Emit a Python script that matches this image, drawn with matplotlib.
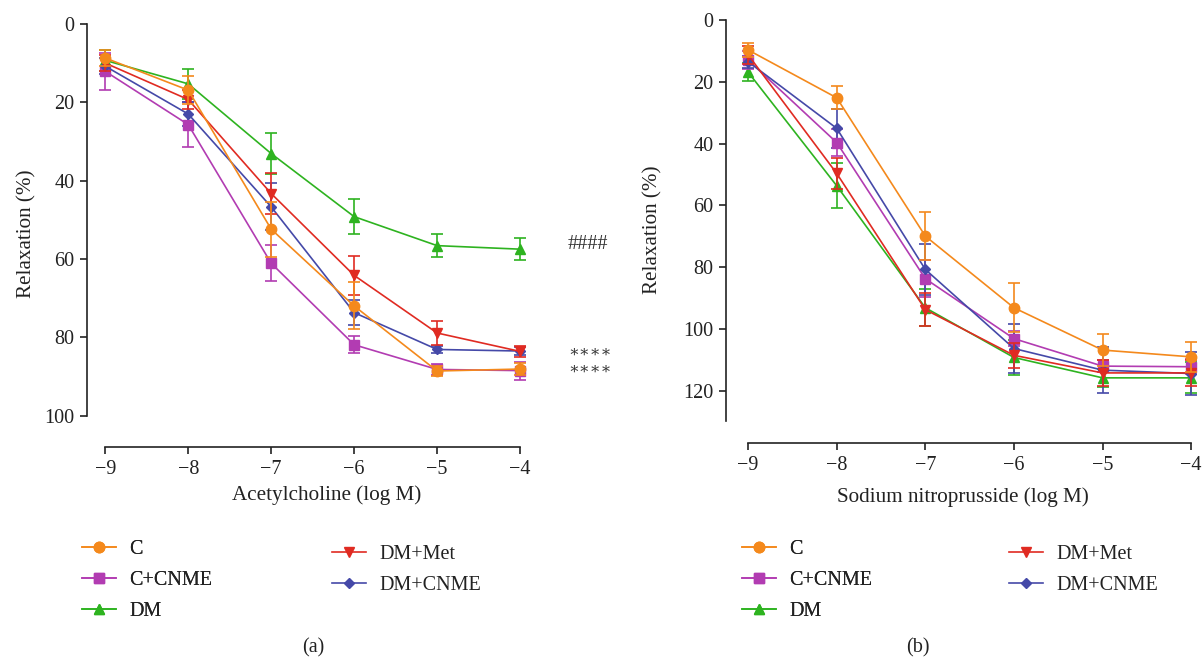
"""
Vascular relaxation curves: acetylcholine (a) and sodium nitroprusside (b).
"""

import numpy as np
import matplotlib.pyplot as plt
from matplotlib.lines import Line2D

plt.rcParams["font.family"] = ["Liberation Serif", "DejaVu Serif"]

# ── Data ─────────────────────────────────────────────────────────────────
log_conc = [-9, -8, -7, -6, -5, -4]
groups = ["C", "C+CNME", "DM", "DM+Met", "DM+CNME"]

# (a) acetylcholine: mean and error
ach_c = [8.7, 16.9, 52.4, 72.0, 88.6, 88.1]
ach_c_err = [2.0, 3.6, 7.0, 6.0, 1.2, 1.5]
ach_ccnme = [12.1, 25.7, 61.1, 81.9, 88.2, 88.5]
ach_ccnme_err = [4.7, 5.7, 4.6, 2.2, 1.5, 2.3]
ach_dm = [9.3, 15.3, 33.1, 49.2, 56.6, 57.5]
ach_dm_err = [2.7, 3.9, 5.2, 4.5, 3.0, 2.8]
ach_dmmet = [10.0, 19.3, 43.3, 64.2, 78.9, 83.6]
ach_dmmet_err = [2.0, 2.5, 5.2, 5.0, 3.1, 1.5]
ach_dmcnme = [10.8, 23.0, 46.7, 73.7, 83.1, 83.5]
ach_dmcnme_err = [2.0, 3.0, 6.0, 3.2, 1.0, 1.0]

# (b) sodium nitroprusside: mean and error
snp_c = [9.7, 25.2, 70.0, 93.2, 106.9, 109.1]
snp_c_err = [2.4, 3.7, 7.7, 7.9, 5.2, 4.9]
snp_ccnme = [13.0, 39.7, 83.8, 103.2, 112.1, 112.3]
snp_ccnme_err = [3.0, 4.5, 6.0, 2.5, 2.0, 2.5]
snp_dm = [16.9, 53.7, 93.2, 109.3, 115.9, 115.9]
snp_dm_err = [2.9, 7.3, 6.0, 5.7, 3.0, 5.0]
snp_dmmet = [11.3, 49.7, 93.8, 108.6, 114.3, 114.3]
snp_dmmet_err = [3.0, 5.0, 5.3, 4.0, 4.3, 4.3]
snp_dmcnme = [13.5, 35.1, 80.8, 106.4, 113.4, 114.5]
snp_dmcnme_err = [2.0, 6.4, 8.4, 8.0, 7.5, 7.0]

ach_means = [ach_c, ach_ccnme, ach_dm, ach_dmmet, ach_dmcnme]
ach_errs = [ach_c_err, ach_ccnme_err, ach_dm_err, ach_dmmet_err, ach_dmcnme_err]
snp_means = [snp_c, snp_ccnme, snp_dm, snp_dmmet, snp_dmcnme]
snp_errs = [snp_c_err, snp_ccnme_err, snp_dm_err, snp_dmmet_err, snp_dmcnme_err]

# ── Styles ───────────────────────────────────────────────────────────────
colors = ["#F4891C", "#B23CB2", "#2EB320", "#E02B22", "#4549A8"]
markers = ["o", "s", "^", "v", "D"]
msizes = [7.5, 7, 7, 7, 5]
zorders = [6, 4, 3, 5, 4]
TXT = "#222222"
FS = 14.5
FS_LAB = 15.2

W, H = 1202, 658
fig = plt.figure(figsize=(W / 100, H / 100), dpi=100)


def make_axes(x0, x1, y_top, y_bot):
    return fig.add_axes([x0 / W, 1 - y_bot / H, (x1 - x0) / W, (y_bot - y_top) / H])


def draw_panel(ax, means, errs, xlim, ylim, ymax, yticks, xlabel,
               ylabelpad, xlabelpad):
    for i, g in enumerate(groups):
        ax.errorbar(log_conc, means[i], yerr=errs[i], color=colors[i],
                    marker=markers[i], markersize=msizes[i], lw=1.2,
                    elinewidth=1.2, capsize=4, capthick=1.2,
                    markeredgecolor=colors[i], zorder=zorders[i],
                    clip_on=False)
    ax.set_xlim(*xlim)
    ax.set_ylim(*ylim)
    ax.set_xticks(log_conc)
    ax.set_xticklabels([f"\u2212{abs(v)}" for v in log_conc])
    ax.set_yticks(yticks)
    for s in ["top", "right"]:
        ax.spines[s].set_visible(False)
    ax.spines["left"].set_bounds(0, ymax)
    ax.spines["bottom"].set_bounds(-9, -4)
    for s in ["left", "bottom"]:
        ax.spines[s].set_linewidth(1.2)
        ax.spines[s].set_color(TXT)
    ax.tick_params(axis="both", length=5, width=1.2, color=TXT,
                   labelsize=FS, labelcolor=TXT, pad=4)
    ax.set_ylabel("Relaxation (%)", fontsize=FS_LAB, color=TXT,
                  labelpad=ylabelpad)
    ax.set_xlabel(xlabel, fontsize=FS_LAB, color=TXT, labelpad=xlabelpad)


# ── Panel (a) ────────────────────────────────────────────────────────────
ax1 = make_axes(87, 545, 20, 447)
draw_panel(ax1, ach_means, ach_errs, (-9.22, -3.7), (108, -1.0), 100,
           [0, 20, 40, 60, 80, 100], "Acetylcholine (log M)", 6, 5)
ax1.xaxis.set_label_coords((327 - 87) / 458, -38 / 427)

ax1.annotate("####", xy=(-4, 56.3), xytext=(34, 0), textcoords="offset points",
             fontsize=FS, color="#333333", va="center", ha="left",
             annotation_clip=False)
for yv in [84.0, 88.4]:
    ax1.annotate("\u2217\u2217\u2217\u2217", xy=(-4, yv), xytext=(35, 0),
                 textcoords="offset points", fontsize=11.5, color="#333333",
                 va="center", ha="left", annotation_clip=False)

# ── Panel (b) ────────────────────────────────────────────────────────────
ax2 = make_axes(726, 1200, 16, 443)
draw_panel(ax2, snp_means, snp_errs, (-9.25, -3.9), (137, -1.3), 130,
           [0, 20, 40, 60, 80, 100, 120], "Sodium nitroprusside (log M)",
           15, 9)

# ── Legends ──────────────────────────────────────────────────────────────
def handle(i):
    return Line2D([0], [0], color=colors[i], marker=markers[i],
                  markersize=msizes[i], lw=1.2, markeredgecolor=colors[i])


def add_legends(x_col1, x_col2, y_col1, y_col2):
    opts = dict(loc="upper left", frameon=False, fontsize=FS,
                handlelength=1.7, handletextpad=0.65, labelspacing=0.6,
                borderpad=0, borderaxespad=0)
    leg_a = fig.legend([handle(i) for i in range(3)], groups[:3],
                       bbox_to_anchor=(x_col1 / W, 1 - y_col1 / H), **opts)
    for t in leg_a.get_texts():
        t.set_color(TXT)
    fig.add_artist(leg_a)
    leg_b = fig.legend([handle(i) for i in range(3, 5)], groups[3:],
                       bbox_to_anchor=(x_col2 / W, 1 - y_col2 / H), **opts)
    for t in leg_b.get_texts():
        t.set_color(TXT)


add_legends(82, 332, 540, 545)
add_legends(742, 1009, 540, 545)

fig.text(313 / W, 1 - 648 / H, "(a)", fontsize=FS, ha="center", va="center",
         color=TXT)
fig.text(918 / W, 1 - 648 / H, "(b)", fontsize=FS, ha="center", va="center",
         color=TXT)

plt.savefig("out.png", dpi=100, facecolor="white")
plt.close()
